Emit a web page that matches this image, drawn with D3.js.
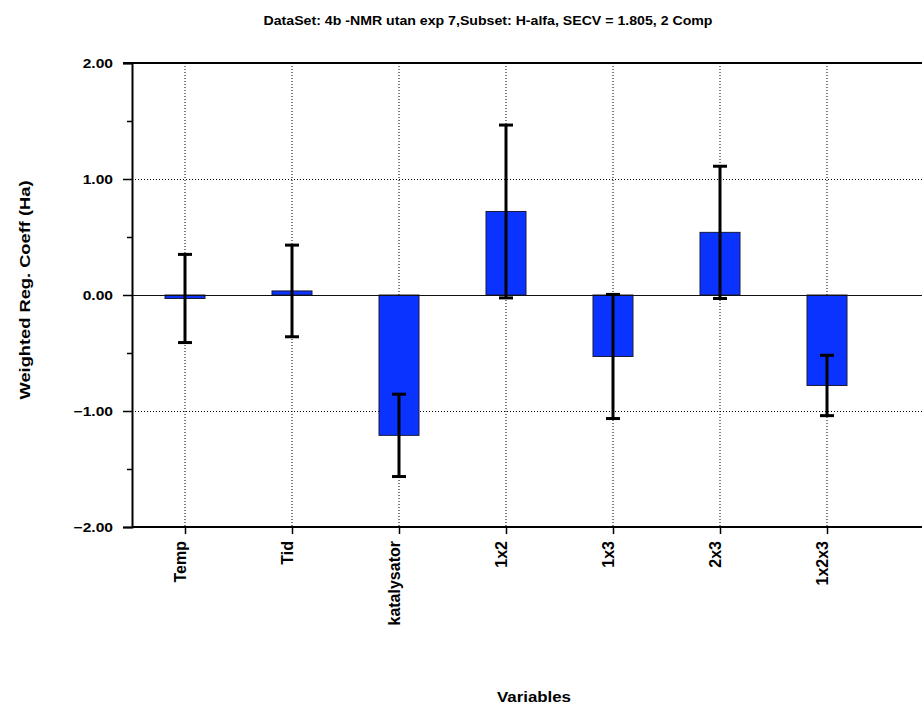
<!DOCTYPE html>
<html><head><meta charset="utf-8">
<script src="https://cdn.jsdelivr.net/npm/d3@7"></script>
<style>body{margin:0;background:#fff}svg{display:block}text{font-family:Arial,"Liberation Sans",sans-serif;font-weight:bold;fill:#000}</style>
</head><body>
<svg id="c" width="922" height="705"></svg>
<script>
const categories = ["Temp","Tid","katalysator","1x2","1x3","2x3","1x2x3"];
const coeffs = [-0.03, 0.035, -1.21, 0.72, -0.53, 0.54, -0.78];
const errors = [0.38, 0.395, 0.355, 0.745, 0.535, 0.57, 0.26];
const yTicks = [-2, -1, 0, 1, 2];
const yMinorTicks = [-1.5, -0.5, 0.5, 1.5];
const title = "DataSet: 4b -NMR utan exp 7,Subset: H-alfa, SECV = 1.805, 2 Comp";
const yLabel = "Weighted Reg. Coeff (Ha)";
const xLabel = "Variables";

const svg = d3.select("#c");
const L = 132, R = 922, T = 63, B = 527;
const x = d3.scalePoint().domain(categories).range([131.5, 880.5]).padding(0.5);
const y = d3.scaleLinear().domain([-2, 2]).range([B, T]);
const barW = 40;

function stretch(sel, target) {
  sel.each(function () {
    const w = this.getComputedTextLength();
    const t = typeof target === "function" ? target(w) : target;
    d3.select(this).attr("textLength", t).attr("lengthAdjust", "spacingAndGlyphs");
  });
}

// gridlines
svg.append("g").selectAll("line").data(categories).join("line")
  .attr("x1", d => x(d)).attr("x2", d => x(d)).attr("y1", T).attr("y2", B)
  .attr("stroke", "#000").attr("stroke-width", 1).attr("stroke-dasharray", "1,2");
svg.append("g").selectAll("line").data(yTicks.filter(v => v !== 0 && Math.abs(v) < 2)).join("line")
  .attr("x1", L).attr("x2", R).attr("y1", d => Math.round(y(d)) + 0.5).attr("y2", d => Math.round(y(d)) + 0.5)
  .attr("stroke", "#000").attr("stroke-width", 1).attr("stroke-dasharray", "1,2");

// bars
svg.append("g").selectAll("rect").data(coeffs).join("rect")
  .attr("x", (d, i) => x(categories[i]) - barW / 2)
  .attr("width", barW)
  .attr("y", d => y(Math.max(0, d)))
  .attr("height", d => Math.abs(y(d) - y(0)))
  .attr("fill", "#0b33ff").attr("stroke", "#1a1a3a").attr("stroke-width", 1);

// zero line
svg.append("line").attr("x1", L).attr("x2", R).attr("y1", Math.round(y(0)) + 0.5).attr("y2", Math.round(y(0)) + 0.5)
  .attr("stroke", "#111").attr("stroke-width", 1);

// error bars
const eb = svg.append("g").attr("stroke", "#000").attr("stroke-width", 3);
coeffs.forEach((v, i) => {
  const cx = x(categories[i]);
  const hi = y(v + errors[i]), lo = y(v - errors[i]);
  eb.append("line").attr("x1", cx).attr("x2", cx).attr("y1", hi).attr("y2", lo);
  eb.append("line").attr("x1", cx - 7).attr("x2", cx + 7).attr("y1", hi).attr("y2", hi);
  eb.append("line").attr("x1", cx - 7).attr("x2", cx + 7).attr("y1", lo).attr("y2", lo);
});

// frame / axes
svg.append("line").attr("x1", L - 9).attr("x2", R).attr("y1", T).attr("y2", T).attr("stroke", "#000").attr("stroke-width", 2);
svg.append("line").attr("x1", L).attr("x2", R).attr("y1", B).attr("y2", B).attr("stroke", "#000").attr("stroke-width", 2);

const yAxis = d3.axisLeft(y).tickValues(yTicks).tickFormat(d3.format(".2f")).tickSize(9).tickPadding(10);
const ga = svg.append("g").attr("transform", `translate(${L},0)`).call(yAxis);
ga.select(".domain").attr("stroke-width", 2);
ga.selectAll(".tick line").attr("stroke-width", 1.5);
ga.selectAll(".tick text").style("font-size", "13px").style("font-family", "Arial, 'Liberation Sans', sans-serif").style("font-weight", "bold");
stretch(ga.selectAll(".tick text"), w => w * 1.2);

const yMinor = d3.axisLeft(y).tickValues(yMinorTicks).tickFormat("").tickSize(5);
const gm = svg.append("g").attr("transform", `translate(${L},0)`).call(yMinor);
gm.select(".domain").remove();
gm.selectAll(".tick line").attr("stroke-width", 1.5);

const xAxis = d3.axisBottom(x).tickSize(7).tickPadding(0);
const gx = svg.append("g").attr("transform", `translate(0,${B})`).call(xAxis);
gx.select(".domain").remove();
gx.selectAll(".tick line").attr("stroke-width", 1.5);
gx.selectAll(".tick text")
  .attr("transform", "rotate(-90)")
  .attr("x", -14).attr("y", 0).attr("dy", "0.05em")
  .attr("text-anchor", "end")
  .style("font-size", "16px").style("font-family", "Arial, 'Liberation Sans', sans-serif").style("font-weight", "bold");

// titles
const tt = svg.append("text").attr("x", 488).attr("y", 25).attr("text-anchor", "middle").style("font-size", "13px").text(title);
stretch(tt, 449);
const xl = svg.append("text").attr("x", 534).attr("y", 702).attr("text-anchor", "middle").style("font-size", "14px").text(xLabel);
stretch(xl, 74);
const yl = svg.append("text").attr("transform", "translate(30,290) rotate(-90)").attr("text-anchor", "middle").style("font-size", "14px").text(yLabel);
stretch(yl, 219);
</script>
</body></html>
